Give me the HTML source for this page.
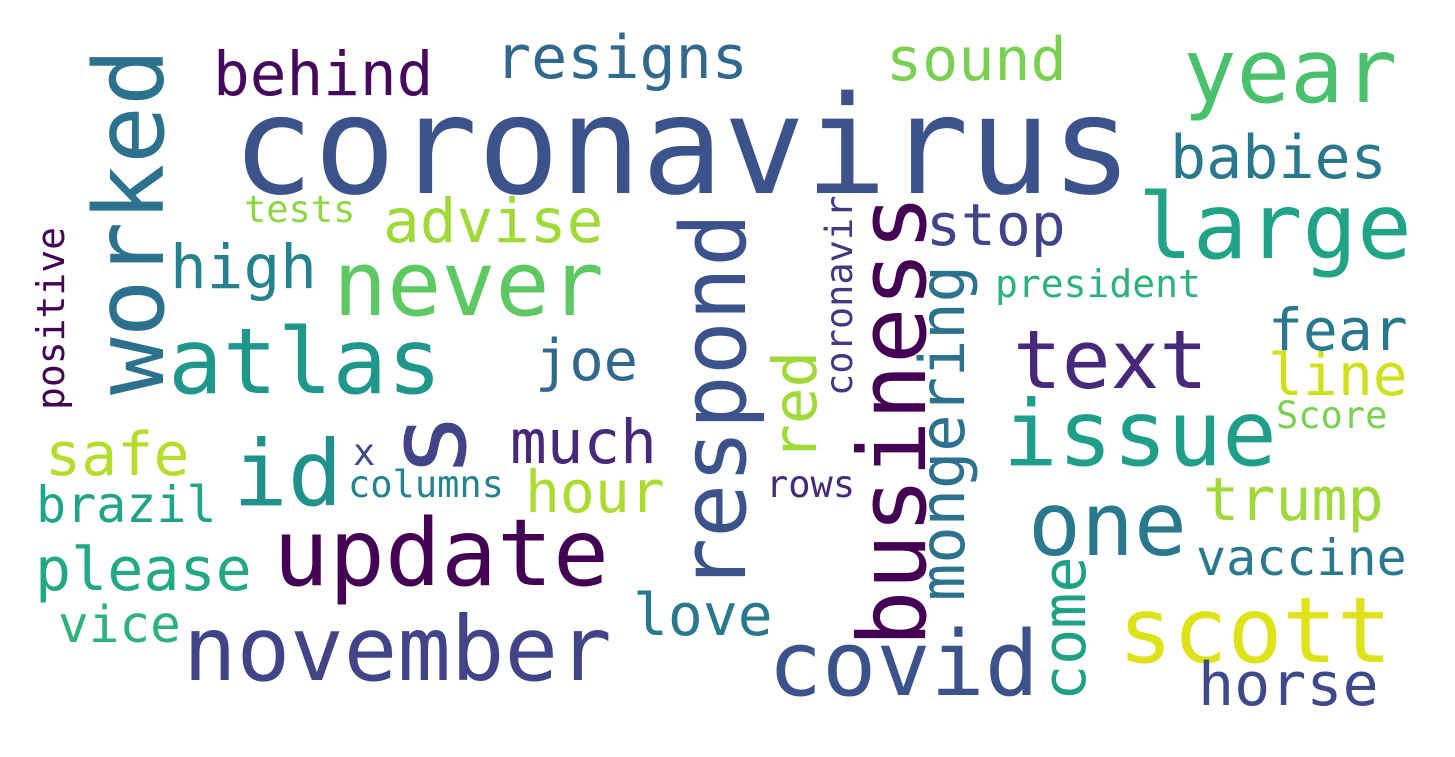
<!DOCTYPE html>
<html><head><meta charset="utf-8"><style>
html,body{margin:0;padding:0;background:#fff;}
svg{display:block;}
text{font-family:"DejaVu Sans Mono","Liberation Mono",monospace;}
</style></head><body>
<svg width="1455" height="757" viewBox="0 0 1455 757">
<rect width="1455" height="757" fill="#fff"/>
<text x="232" y="193" font-size="136" fill="#3b528b">coronavirus</text>
<text x="1183" y="102" font-size="89" fill="#4ac16d">year</text>
<text x="1138" y="258" font-size="91" fill="#20a386">large</text>
<text x="213" y="95" font-size="61" fill="#46085c">behind</text>
<text x="495" y="78" font-size="60" fill="#31688e">resigns</text>
<text x="886" y="80" font-size="60" fill="#7ad151">sound</text>
<text x="1170" y="178" font-size="60" fill="#2a788e">babies</text>
<text x="926" y="245" font-size="58" fill="#414487">stop</text>
<text x="383" y="242" font-size="61" fill="#a0da39">advise</text>
<text x="244" y="222" font-size="37" fill="#8fd744">tests</text>
<text x="333" y="315" font-size="90" fill="#5ec962">never</text>
<text x="170" y="288" font-size="61" fill="#26828e">high</text>
<text x="168" y="393" font-size="91" fill="#1f988b">atlas</text>
<text transform="translate(163,395) rotate(-90)" font-size="96" fill="#2c728e">worked</text>
<text transform="translate(64,410) rotate(-90)" font-size="38" fill="#440154">positive</text>
<text x="233" y="505" font-size="91" fill="#21918c">id</text>
<text transform="translate(465,478) rotate(-90)" font-size="110" fill="#414487">s</text>
<text transform="translate(745,592) rotate(-90)" font-size="90" fill="#3b528b">respond</text>
<text transform="translate(925,647) rotate(-90)" font-size="94" fill="#440154">business</text>
<text transform="translate(964,601) rotate(-90)" font-size="62" fill="#2c728e">mongering</text>
<text transform="translate(852,396) rotate(-90)" font-size="37" fill="#453781">coronavir</text>
<text transform="translate(816,461) rotate(-90)" font-size="61" fill="#a0da39">red</text>
<text transform="translate(1085,701) rotate(-90)" font-size="60" fill="#1fa187">come</text>
<text x="995" y="297" font-size="38" fill="#2db27d">president</text>
<text x="1013" y="388" font-size="81" fill="#482878">text</text>
<text x="1268" y="350" font-size="58" fill="#2a788e">fear</text>
<text x="1268" y="395" font-size="58" fill="#d0e11c">line</text>
<text x="1276" y="428" font-size="37" fill="#7ad151">Score</text>
<text x="1003" y="465" font-size="91" fill="#1f9e89">issue</text>
<text x="535" y="380" font-size="57" fill="#31688e">joe</text>
<text x="510" y="463" font-size="61" fill="#482878">much</text>
<text x="525" y="512" font-size="58" fill="#addc30">hour</text>
<text x="45" y="475" font-size="60" fill="#b5de2b">safe</text>
<text x="353" y="465" font-size="37" fill="#3e4a89">x</text>
<text x="348" y="497" font-size="37" fill="#26828e">columns</text>
<text x="766" y="497" font-size="37" fill="#482878">rows</text>
<text x="36" y="522" font-size="50" fill="#20a386">brazil</text>
<text x="273" y="585" font-size="93" fill="#440154">update</text>
<text x="35" y="590" font-size="60" fill="#22a884">please</text>
<text x="1028" y="555" font-size="88" fill="#2a788e">one</text>
<text x="1203" y="520" font-size="60" fill="#a0da39">trump</text>
<text x="1196" y="575" font-size="50" fill="#2a788e">vaccine</text>
<text x="633" y="635" font-size="58" fill="#2a788e">love</text>
<text x="58" y="642" font-size="51" fill="#2db27d">vice</text>
<text x="183" y="680" font-size="89" fill="#414487">november</text>
<text x="768" y="695" font-size="90" fill="#3b528b">covid</text>
<text x="1118" y="662" font-size="91" fill="#dde318">scott</text>
<text x="1198" y="705" font-size="60" fill="#3e4989">horse</text>
</svg>
</body></html>
